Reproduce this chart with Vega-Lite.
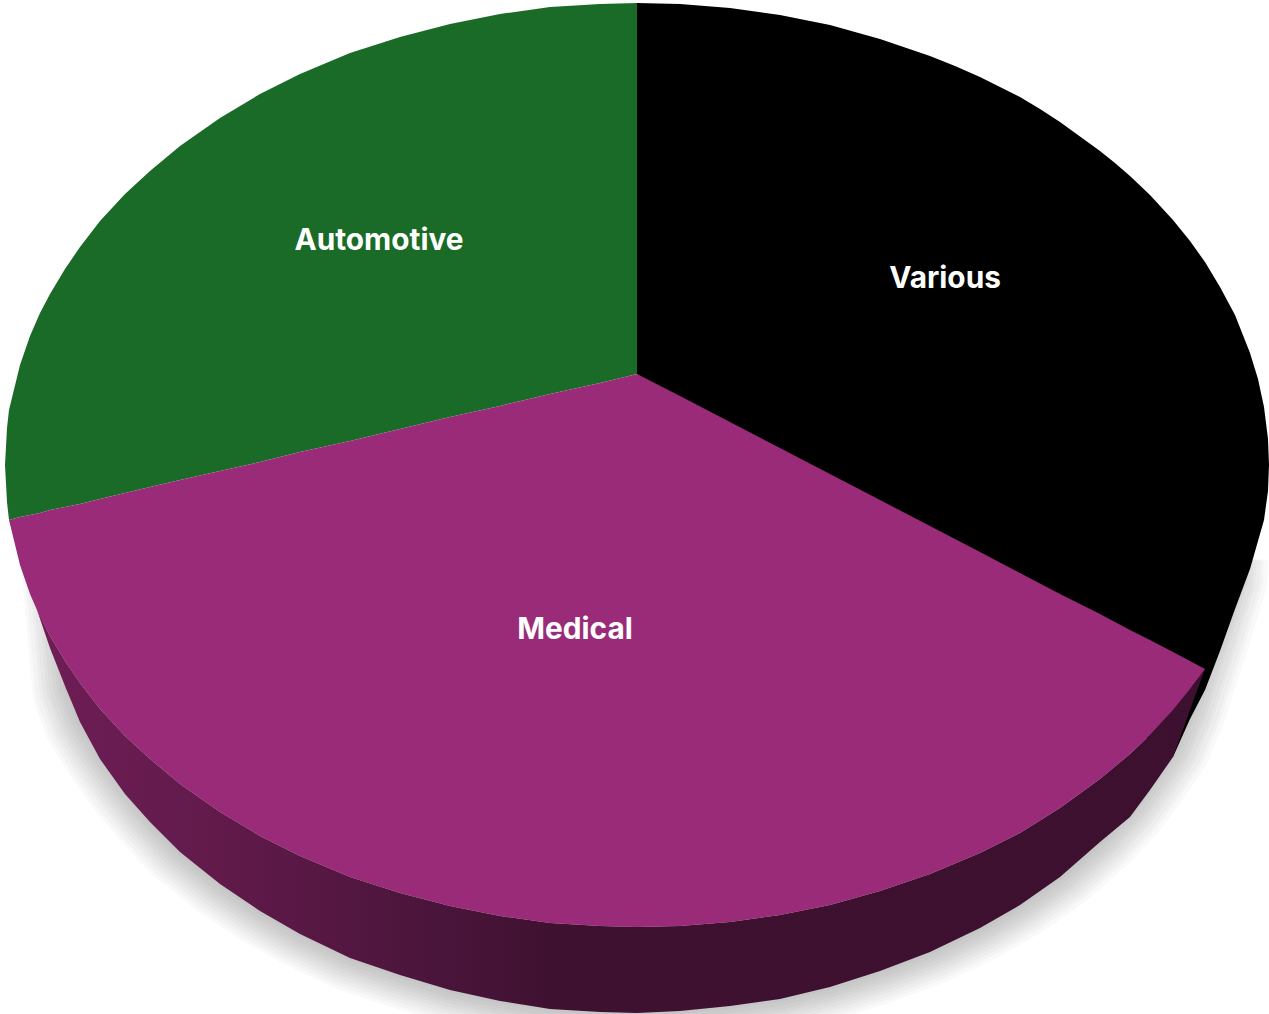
{"$schema":"https://vega.github.io/schema/vega-lite/v6.json","width":1269,"height":1014,"padding":0,"autosize":"none","background":"white","view":{"stroke":null},
"datasets":{
"various":[{"X":0,"Top":462,"Bottom":91},{"X":43,"Top":461,"Bottom":60},{"X":93,"Top":457,"Bottom":25},{"X":143,"Top":450,"Bottom":-11},{"X":193,"Top":440,"Bottom":-47},{"X":243,"Top":426,"Bottom":-83},{"X":293,"Top":409,"Bottom":-118},{"X":318,"Top":399,"Bottom":-136},{"X":343,"Top":388,"Bottom":-154},{"X":383,"Top":368,"Bottom":-183},{"X":403,"Top":356,"Bottom":-197},{"X":423,"Top":343,"Bottom":-211},{"X":463,"Top":314,"Bottom":-240},{"X":478,"Top":302,"Bottom":-251},{"X":493,"Top":289,"Bottom":-261},{"X":513,"Top":270,"Bottom":-276},{"X":536,"Top":245,"Bottom":-292},{"X":553,"Top":224,"Bottom":-254},{"X":568,"Top":203,"Bottom":-225},{"X":583,"Top":178,"Bottom":-186},{"X":598,"Top":150,"Bottom":-144},{"X":613,"Top":112,"Bottom":-104},{"X":621,"Top":86,"Bottom":-76},{"X":627,"Top":58,"Bottom":-55},{"X":631,"Top":26,"Bottom":-26},{"X":632,"Top":0,"Bottom":0}],
"automotive":[{"X":-632,"Top":0,"Bottom":0},{"X":-630,"Top":37,"Bottom":-37},{"X":-628,"Top":55,"Bottom":-55},{"X":-617,"Top":100,"Bottom":-52},{"X":-607,"Top":129,"Bottom":-50},{"X":-597,"Top":152,"Bottom":-48},{"X":-587,"Top":171,"Bottom":-45},{"X":-572,"Top":196,"Bottom":-42},{"X":-557,"Top":218,"Bottom":-39},{"X":-537,"Top":244,"Bottom":-34},{"X":-512,"Top":271,"Bottom":-28},{"X":-487,"Top":294,"Bottom":-22},{"X":-457,"Top":319,"Bottom":-15},{"X":-417,"Top":347,"Bottom":-6},{"X":-377,"Top":371,"Bottom":3},{"X":-337,"Top":391,"Bottom":13},{"X":-287,"Top":412,"Bottom":24},{"X":-237,"Top":428,"Bottom":36},{"X":-187,"Top":441,"Bottom":48},{"X":-137,"Top":451,"Bottom":59},{"X":-87,"Top":458,"Bottom":71},{"X":-37,"Top":461,"Bottom":82},{"X":0,"Top":462,"Bottom":91}],
"medical":[{"X":-628,"Top":-55,"Bottom":-55},{"X":-617,"Top":-52,"Bottom":-100},{"X":-607,"Top":-50,"Bottom":-129},{"X":-597,"Top":-48,"Bottom":-152},{"X":-587,"Top":-45,"Bottom":-171},{"X":-572,"Top":-42,"Bottom":-196},{"X":-557,"Top":-39,"Bottom":-218},{"X":-537,"Top":-34,"Bottom":-244},{"X":-512,"Top":-28,"Bottom":-271},{"X":-487,"Top":-22,"Bottom":-294},{"X":-457,"Top":-15,"Bottom":-319},{"X":-417,"Top":-6,"Bottom":-347},{"X":-377,"Top":3,"Bottom":-371},{"X":-337,"Top":13,"Bottom":-391},{"X":-287,"Top":24,"Bottom":-412},{"X":-237,"Top":36,"Bottom":-428},{"X":-187,"Top":48,"Bottom":-441},{"X":-137,"Top":59,"Bottom":-451},{"X":-87,"Top":71,"Bottom":-458},{"X":-37,"Top":82,"Bottom":-461},{"X":0,"Top":91,"Bottom":-462},{"X":43,"Top":69,"Bottom":-461},{"X":93,"Top":43,"Bottom":-457},{"X":143,"Top":17,"Bottom":-450},{"X":193,"Top":-9,"Bottom":-440},{"X":243,"Top":-35,"Bottom":-426},{"X":293,"Top":-61,"Bottom":-409},{"X":343,"Top":-87,"Bottom":-388},{"X":383,"Top":-108,"Bottom":-368},{"X":423,"Top":-129,"Bottom":-343},{"X":463,"Top":-149,"Bottom":-314},{"X":493,"Top":-165,"Bottom":-289},{"X":513,"Top":-175,"Bottom":-270},{"X":536,"Top":-187,"Bottom":-245},{"X":553,"Top":-196,"Bottom":-224},{"X":568,"Top":-204,"Bottom":-204}],
"side":[{"X":-600,"Top":-145,"Bottom":-145},{"X":-587,"Top":-171,"Bottom":-183},{"X":-572,"Top":-196,"Bottom":-221},{"X":-557,"Top":-218,"Bottom":-257},{"X":-537,"Top":-244,"Bottom":-294},{"X":-512,"Top":-271,"Bottom":-329},{"X":-487,"Top":-294,"Bottom":-357},{"X":-457,"Top":-319,"Bottom":-387},{"X":-417,"Top":-347,"Bottom":-419},{"X":-377,"Top":-371,"Bottom":-446},{"X":-337,"Top":-391,"Bottom":-469},{"X":-287,"Top":-412,"Bottom":-493},{"X":-237,"Top":-428,"Bottom":-510},{"X":-187,"Top":-441,"Bottom":-525},{"X":-137,"Top":-451,"Bottom":-536},{"X":-87,"Top":-458,"Bottom":-544},{"X":-37,"Top":-461,"Bottom":-547},{"X":0,"Top":-462,"Bottom":-548},{"X":43,"Top":-461,"Bottom":-546},{"X":93,"Top":-457,"Bottom":-541},{"X":143,"Top":-450,"Bottom":-534},{"X":193,"Top":-440,"Bottom":-522},{"X":243,"Top":-426,"Bottom":-506},{"X":293,"Top":-409,"Bottom":-487},{"X":343,"Top":-388,"Bottom":-463},{"X":383,"Top":-368,"Bottom":-440},{"X":423,"Top":-343,"Bottom":-412},{"X":463,"Top":-314,"Bottom":-377},{"X":493,"Top":-289,"Bottom":-352},{"X":513,"Top":-270,"Bottom":-325},{"X":536,"Top":-245,"Bottom":-292},{"X":553,"Top":-224,"Bottom":-245},{"X":568,"Top":-204,"Bottom":-204}],
"shadow":[{"X":-582,"Top":-90,"Bottom":-90},{"X":-577,"Top":-90,"Bottom":-140},{"X":-570,"Top":-90,"Bottom":-221},{"X":-557,"Top":-90,"Bottom":-257},{"X":-537,"Top":-90,"Bottom":-290},{"X":-512,"Top":-90,"Bottom":-325},{"X":-487,"Top":-90,"Bottom":-355},{"X":-457,"Top":-90,"Bottom":-387},{"X":-417,"Top":-90,"Bottom":-419},{"X":-377,"Top":-90,"Bottom":-446},{"X":-337,"Top":-90,"Bottom":-469},{"X":-287,"Top":-90,"Bottom":-493},{"X":-237,"Top":-90,"Bottom":-510},{"X":-187,"Top":-90,"Bottom":-525},{"X":-137,"Top":-90,"Bottom":-536},{"X":-87,"Top":-90,"Bottom":-544},{"X":-37,"Top":-90,"Bottom":-547},{"X":0,"Top":-90,"Bottom":-548},{"X":43,"Top":-90,"Bottom":-546},{"X":93,"Top":-90,"Bottom":-541},{"X":143,"Top":-90,"Bottom":-534},{"X":193,"Top":-90,"Bottom":-522},{"X":243,"Top":-90,"Bottom":-506},{"X":293,"Top":-90,"Bottom":-487},{"X":343,"Top":-90,"Bottom":-463},{"X":383,"Top":-90,"Bottom":-440},{"X":423,"Top":-90,"Bottom":-412},{"X":463,"Top":-90,"Bottom":-377},{"X":493,"Top":-90,"Bottom":-345},{"X":513,"Top":-90,"Bottom":-318},{"X":536,"Top":-90,"Bottom":-285},{"X":553,"Top":-90,"Bottom":-245},{"X":569,"Top":-90,"Bottom":-195},{"X":578,"Top":-90,"Bottom":-168},{"X":594,"Top":-90,"Bottom":-115},{"X":595,"Top":-90,"Bottom":-90}],
"labels":[{"label":"Automotive","X":-258,"Y":224},{"label":"Various","X":308,"Y":186},{"label":"Medical","X":-62,"Y":-165}]
},
"resolve":{"scale":{"x":"independent","y":"independent"}},
"layer":[
{"data":{"name":"shadow"},"mark":{"type":"area","color":"black","opacity":0.025},"encoding":{"x":{"field":"X","type":"quantitative","axis":null,"scale":{"domain":[-601,596],"nice":false,"zero":false}},"y":{"field":"Bottom","type":"quantitative","axis":null,"scale":{"domain":[-518,439],"nice":false,"zero":false}},"y2":{"field":"Top"}}},
{"data":{"name":"shadow"},"mark":{"type":"area","color":"black","opacity":0.025},"encoding":{"x":{"field":"X","type":"quantitative","axis":null,"scale":{"domain":[-604,600],"nice":false,"zero":false}},"y":{"field":"Bottom","type":"quantitative","axis":null,"scale":{"domain":[-521,441],"nice":false,"zero":false}},"y2":{"field":"Top"}}},
{"data":{"name":"shadow"},"mark":{"type":"area","color":"black","opacity":0.025},"encoding":{"x":{"field":"X","type":"quantitative","axis":null,"scale":{"domain":[-608,603],"nice":false,"zero":false}},"y":{"field":"Bottom","type":"quantitative","axis":null,"scale":{"domain":[-524,444],"nice":false,"zero":false}},"y2":{"field":"Top"}}},
{"data":{"name":"shadow"},"mark":{"type":"area","color":"black","opacity":0.025},"encoding":{"x":{"field":"X","type":"quantitative","axis":null,"scale":{"domain":[-611,607],"nice":false,"zero":false}},"y":{"field":"Bottom","type":"quantitative","axis":null,"scale":{"domain":[-527,446],"nice":false,"zero":false}},"y2":{"field":"Top"}}},
{"data":{"name":"shadow"},"mark":{"type":"area","color":"black","opacity":0.025},"encoding":{"x":{"field":"X","type":"quantitative","axis":null,"scale":{"domain":[-615,610],"nice":false,"zero":false}},"y":{"field":"Bottom","type":"quantitative","axis":null,"scale":{"domain":[-530,449],"nice":false,"zero":false}},"y2":{"field":"Top"}}},
{"data":{"name":"shadow"},"mark":{"type":"area","color":"black","opacity":0.025},"encoding":{"x":{"field":"X","type":"quantitative","axis":null,"scale":{"domain":[-618,614],"nice":false,"zero":false}},"y":{"field":"Bottom","type":"quantitative","axis":null,"scale":{"domain":[-533,451],"nice":false,"zero":false}},"y2":{"field":"Top"}}},
{"data":{"name":"shadow"},"mark":{"type":"area","color":"black","opacity":0.025},"encoding":{"x":{"field":"X","type":"quantitative","axis":null,"scale":{"domain":[-622,617],"nice":false,"zero":false}},"y":{"field":"Bottom","type":"quantitative","axis":null,"scale":{"domain":[-536,454],"nice":false,"zero":false}},"y2":{"field":"Top"}}},
{"data":{"name":"shadow"},"mark":{"type":"area","color":"black","opacity":0.025},"encoding":{"x":{"field":"X","type":"quantitative","axis":null,"scale":{"domain":[-626,621],"nice":false,"zero":false}},"y":{"field":"Bottom","type":"quantitative","axis":null,"scale":{"domain":[-539,457],"nice":false,"zero":false}},"y2":{"field":"Top"}}},
{"data":{"name":"shadow"},"mark":{"type":"area","color":"black","opacity":0.025},"encoding":{"x":{"field":"X","type":"quantitative","axis":null,"scale":{"domain":[-629,625],"nice":false,"zero":false}},"y":{"field":"Bottom","type":"quantitative","axis":null,"scale":{"domain":[-542,459],"nice":false,"zero":false}},"y2":{"field":"Top"}}},
{"data":{"name":"shadow"},"mark":{"type":"area","color":"black","opacity":0.025},"encoding":{"x":{"field":"X","type":"quantitative","axis":null,"scale":{"domain":[-633,628],"nice":false,"zero":false}},"y":{"field":"Bottom","type":"quantitative","axis":null,"scale":{"domain":[-546,462],"nice":false,"zero":false}},"y2":{"field":"Top"}}},
{"data":{"name":"various"},"mark":{"type":"area","color":"#000000"},"encoding":{"x":{"field":"X","type":"quantitative","axis":null,"scale":{"domain":[-637,632],"nice":false,"zero":false}},"y":{"field":"Top","type":"quantitative","axis":null,"scale":{"domain":[-549,465],"nice":false,"zero":false}},"y2":{"field":"Bottom"}}},
{"data":{"name":"automotive"},"mark":{"type":"area","color":"#1a6b27"},"encoding":{"x":{"field":"X","type":"quantitative","axis":null,"scale":{"domain":[-637,632],"nice":false,"zero":false}},"y":{"field":"Top","type":"quantitative","axis":null,"scale":{"domain":[-549,465],"nice":false,"zero":false}},"y2":{"field":"Bottom"}}},
{"data":{"name":"side"},"mark":{"type":"area","color":{"gradient":"linear","x1":0,"y1":0,"x2":1,"y2":0,"stops":[{"offset":0,"color":"#6e1e56"},{"offset":0.15,"color":"#621a4b"},{"offset":0.3,"color":"#4f163e"},{"offset":0.45,"color":"#3e1130"},{"offset":1,"color":"#3d102f"}]}},"encoding":{"x":{"field":"X","type":"quantitative","axis":null,"scale":{"domain":[-637,632],"nice":false,"zero":false}},"y":{"field":"Top","type":"quantitative","axis":null,"scale":{"domain":[-549,465],"nice":false,"zero":false}},"y2":{"field":"Bottom"}}},
{"data":{"name":"medical"},"mark":{"type":"area","color":"#9a2b78"},"encoding":{"x":{"field":"X","type":"quantitative","axis":null,"scale":{"domain":[-637,632],"nice":false,"zero":false}},"y":{"field":"Top","type":"quantitative","axis":null,"scale":{"domain":[-549,465],"nice":false,"zero":false}},"y2":{"field":"Bottom"}}},
{"data":{"name":"labels"},"mark":{"type":"text","font":"Inter","fontWeight":700,"fontSize":29.8,"color":"white","align":"center","baseline":"middle"},"encoding":{"text":{"field":"label","type":"nominal"},"x":{"field":"X","type":"quantitative","axis":null,"scale":{"domain":[-637,632],"nice":false,"zero":false}},"y":{"field":"Y","type":"quantitative","axis":null,"scale":{"domain":[-549,465],"nice":false,"zero":false}}}}
]}
